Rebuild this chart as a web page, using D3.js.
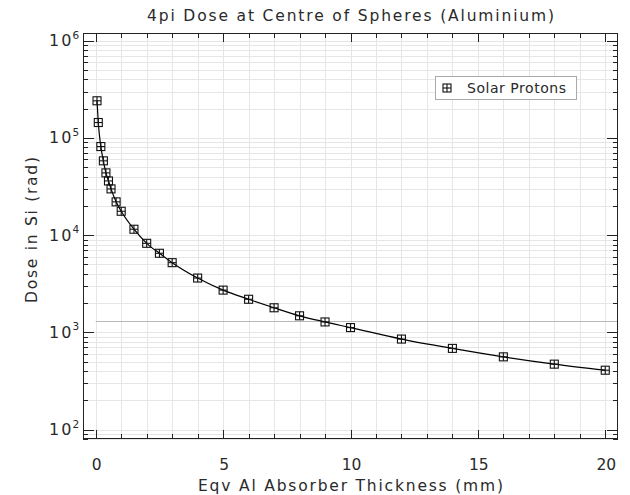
<!DOCTYPE html>
<html>
<head>
<meta charset="utf-8">
<script src="https://cdn.jsdelivr.net/npm/d3@7"></script>
<style>
  body { margin: 0; background: #fff; }
  svg { display: block; }
  text { font-family: "DejaVu Sans", sans-serif; fill: #2a2a2a; }
</style>
</head>
<body>
<div id="chart"></div>
<script>
// ---- data ----
const thickness = [0.05, 0.1, 0.2, 0.3, 0.4, 0.5, 0.6, 0.8, 1.0, 1.5, 2, 2.5, 3, 4, 5, 6, 7, 8, 9, 10, 12, 14, 16, 18, 20];
const dose = [2.41e5, 1.44e5, 8.15e4, 5.81e4, 4.37e4, 3.61e4, 2.99e4, 2.20e4, 1.76e4, 1.15e4,
              8.24e3, 6.51e3, 5.21e3, 3.62e3, 2.72e3, 2.19e3, 1.79e3, 1.48e3, 1.28e3, 1.12e3,
              853, 684, 560, 471, 408];
const xMajorTicks = [0, 5, 10, 15, 20];
const xTickLabels = ["0", "5", "10", "15", "20"];
const yDecadeExponents = [2, 3, 4, 5, 6];
const yTickLabels = ["2", "3", "4", "5", "6"];
const refLineDose = 1300;
const seriesName = "Solar Protons";
const titleText = "4pi Dose at Centre of Spheres (Aluminium)";
const xTitle = "Eqv Al Absorber Thickness (mm)";
const yTitle = "Dose in Si (rad)";

// ---- layout ----
const W = 630, H = 495;
const L = 83, R = 618, T = 33, B = 439;

const svg = d3.select("#chart").append("svg").attr("width", W).attr("height", H);

const x = d3.scaleLinear().domain([-0.5, 20.5]).range([L, R]);
const y = d3.scaleLog().domain([80, 1.2e6]).range([B, T]);

// minor ticks
const xMinor = d3.range(0, 21, 1);
const yMinor = [];
for (let e = 1; e <= 6; e++) for (let m = 1; m <= 9; m++) {
  const v = m * Math.pow(10, e);
  if (v >= 80 && v <= 1.2e6) yMinor.push(v);
}

// grid
const grid = svg.append("g");
grid.selectAll("line.gx").data(xMinor).enter().append("line")
  .attr("x1", d => Math.round(x(d)) + 0.5).attr("x2", d => Math.round(x(d)) + 0.5)
  .attr("y1", T).attr("y2", B).attr("stroke", "#e6e6e6").attr("stroke-width", 1);
grid.selectAll("line.gy").data(yMinor).enter().append("line")
  .attr("y1", d => Math.round(y(d)) + 0.5).attr("y2", d => Math.round(y(d)) + 0.5)
  .attr("x1", L).attr("x2", R).attr("stroke", "#e6e6e6").attr("stroke-width", 1);

// reference line
svg.append("line")
  .attr("x1", x(0)).attr("x2", R)
  .attr("y1", Math.round(y(refLineDose)) + 0.5).attr("y2", Math.round(y(refLineDose)) + 0.5)
  .attr("stroke", "#b8b8b8").attr("stroke-width", 1);

// ticks
const ax = svg.append("g").attr("stroke", "#222").attr("stroke-width", 1);
xMinor.forEach(d => {
  const len = xMajorTicks.includes(d) ? 9 : 5;
  const px = Math.round(x(d)) + 0.5;
  ax.append("line").attr("x1", px).attr("x2", px).attr("y1", B).attr("y2", B - len);
  ax.append("line").attr("x1", px).attr("x2", px).attr("y1", T).attr("y2", T + len);
});
yMinor.forEach(d => {
  const isMajor = Math.abs(Math.log10(d) - Math.round(Math.log10(d))) < 1e-9;
  const len = isMajor ? 11 : 5;
  const py = Math.round(y(d)) + 0.5;
  ax.append("line").attr("x1", L).attr("x2", L + len).attr("y1", py).attr("y2", py);
  ax.append("line").attr("x1", R).attr("x2", R - len).attr("y1", py).attr("y2", py);
});

// frame
svg.append("rect").attr("x", L + 0.5).attr("y", T + 0.5).attr("width", R - L - 1).attr("height", B - T - 1)
  .attr("fill", "none").attr("stroke", "#222").attr("stroke-width", 1);

// tick labels
svg.selectAll("text.xt").data(xMajorTicks).enter().append("text")
  .attr("x", d => x(d) + 1).attr("y", 470).attr("text-anchor", "middle")
  .attr("font-size", 15.5).text((d, i) => xTickLabels[i]);

yDecadeExponents.forEach((e, i) => {
  const py = y(Math.pow(10, e));
  svg.append("text").attr("x", 71.5).attr("y", py + 5.5).attr("text-anchor", "end")
    .attr("font-size", 16).attr("textLength", 22.5).attr("lengthAdjust", "spacing").text("10");
  svg.append("text").attr("x", 72.5).attr("y", py - 2).attr("text-anchor", "start")
    .attr("font-size", 10.5).text(yTickLabels[i]);
});

// titles
svg.append("text").attr("x", (L + R) / 2).attr("y", 21).attr("text-anchor", "middle")
  .attr("font-size", 15.5).attr("textLength", 407).attr("lengthAdjust", "spacing").text(titleText);
svg.append("text").attr("x", (L + R) / 2).attr("y", 491).attr("text-anchor", "middle")
  .attr("font-size", 15.5).attr("textLength", 305).attr("lengthAdjust", "spacing").text(xTitle);
svg.append("text").attr("transform", `translate(37,${(T + B) / 2 - 6}) rotate(-90)`).attr("text-anchor", "middle")
  .attr("font-size", 15.5).attr("textLength", 146).attr("lengthAdjust", "spacing").text(yTitle);

// data line
const pts = thickness.map((t, i) => [t, dose[i]]);
svg.append("path").datum(pts)
  .attr("d", d3.line().x(d => x(d[0])).y(d => y(d[1])).curve(d3.curveMonotoneX))
  .attr("fill", "none").attr("stroke", "#000").attr("stroke-width", 1.2);

// markers
function marker(g, cx, cy) {
  const s = 4;
  g.append("rect").attr("x", cx - s).attr("y", cy - s).attr("width", 2 * s).attr("height", 2 * s)
    .attr("fill", "none").attr("stroke", "#111").attr("stroke-width", 1.1);
  g.append("line").attr("x1", cx - s).attr("x2", cx + s).attr("y1", cy).attr("y2", cy)
    .attr("stroke", "#111").attr("stroke-width", 1.1);
  g.append("line").attr("x1", cx).attr("x2", cx).attr("y1", cy - s).attr("y2", cy + s)
    .attr("stroke", "#111").attr("stroke-width", 1.1);
}
const mg = svg.append("g");
pts.forEach(d => marker(mg, x(d[0]), y(d[1])));

// legend
const lg = svg.append("g");
lg.append("rect").attr("x", 435.5).attr("y", 76.5).attr("width", 141).attr("height", 23)
  .attr("fill", "#fff").attr("stroke", "#aaa").attr("stroke-width", 1);
marker(lg, 447, 88);
lg.append("text").attr("x", 467).attr("y", 93).attr("font-size", 14)
  .attr("textLength", 99).attr("lengthAdjust", "spacing").text(seriesName);
</script>
</body>
</html>
